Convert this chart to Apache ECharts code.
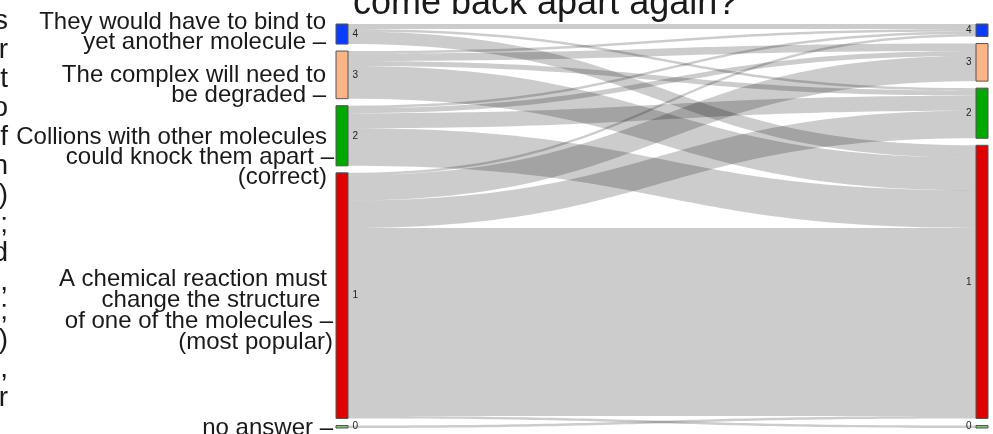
<!DOCTYPE html>
<html>
<head>
<meta charset="utf-8">
<style>
  html, body { margin: 0; padding: 0; background: #fff; }
  #chart { width: 993px; height: 434px; }
</style>
<script src="https://cdn.jsdelivr.net/npm/echarts@6/dist/echarts.min.js"></script>
</head>
<body>
<div id="chart"></div>
<script>
// answer codes, top to bottom in both columns
const answers = ['4', '3', '2', '1', '0'];
const answerColors = ['#0a3cff', '#fcb386', '#00a800', '#dc0000', '#80c080'];

// students moving from each first answer to the second answer (4, 3, 2, 1, 0)
const from4 = [2, 0, 1, 5, 0];
const from3 = [1, 3, 2, 13, 0];
const from2 = [1, 2, 6, 15, 0];
const from1 = [1, 10, 11, 75, 1];
const from0 = [0, 0, 0, 1, 0];

const answerNotes = [
  ['They would have to bind to', 'yet another molecule \u2013'],
  ['The complex will need to', 'be degraded \u2013'],
  ['Collions with other molecules', 'could knock them apart \u2013', '(correct)'],
  ['A chemical reaction must', 'change the structure ', 'of one of the molecules \u2013', '(most popular)'],
  ['no answer \u2013']
];

const titleText = 'come back apart again?';
// right ends of the neighbouring paragraph, cut off by the frame
const clippedChars = ['s', 'r', 't', 'o', 'f', 'n', ')', ';', 'd', ',', ';', ')', ',', 'r'];

const flows = [from4, from3, from2, from1, from0];

const nodes = [];
answers.forEach((a, i) => nodes.push({ name: 'L' + a, itemStyle: { color: answerColors[i] } }));
answers.forEach((a, i) => nodes.push({ name: 'R' + a, itemStyle: { color: answerColors[i] } }));

const links = [];
flows.forEach((row, i) => {
  row.forEach((v, j) => {
    if (v > 0) links.push({ source: 'L' + answers[i], target: 'R' + answers[j], value: v });
  });
});

const font = '"Liberation Sans", Arial, Helvetica, sans-serif';
const noteSize = 24;
const mid = noteSize * 0.31 - 3;

// baseline and right edge of each note line
const notePlaces = [
  [[27, 326], [47, 326]],
  [[80, 326], [100, 326]],
  [[142, 327], [162, 334], [182, 327]],
  [[284, 327], [305, 327], [326, 333], [347, 333]],
  [[433, 333]]
];

const graphics = [];
answerNotes.forEach((lines, g) => {
  lines.forEach((t, k) => {
    const [base, xr] = notePlaces[g][k];
    graphics.push({
      type: 'text', silent: true,
      style: { text: t, x: xr, y: base - mid, align: 'right', verticalAlign: 'middle',
               font: noteSize + 'px ' + font, fill: '#1a1a1a' }
    });
  });
});

graphics.push({
  type: 'text', silent: true,
  style: { text: titleText, x: 353, y: 15 - 36 * 0.31, align: 'left', verticalAlign: 'middle',
           font: '36px ' + font, fill: '#1a1a1a' }
});

clippedChars.forEach((c, i) => {
  graphics.push({
    type: 'text', silent: true,
    style: { text: c, x: 8, y: 30 + 29 * i - 28 * 0.31, align: 'right', verticalAlign: 'middle',
             font: '28px ' + font, fill: '#1a1a1a' }
  });
});

const chart = echarts.init(document.getElementById('chart'), null, { renderer: 'canvas' });
chart.setOption({
  animation: false,
  backgroundColor: '#fff',
  graphic: graphics,
  series: [
    {
      type: 'sankey',
      left: 336,
      right: 5,
      top: 24,
      bottom: 6,
      nodeWidth: 12,
      nodeGap: 7,
      layoutIterations: 0,
      draggable: false,
      emphasis: { disabled: true },
      data: nodes,
      links: links,
      itemStyle: { borderColor: '#555', borderWidth: 1 },
      lineStyle: { color: '#000', opacity: 0.2, curveness: 0.5 },
      label: {
        fontSize: 10,
        color: '#222',
        fontFamily: font,
        distance: 4,
        formatter: p => p.name.slice(1)
      },
      levels: [
        { depth: 0, label: { position: 'right' } },
        { depth: 1, label: { position: 'left' } }
      ]
    }
  ]
});
</script>
</body>
</html>
